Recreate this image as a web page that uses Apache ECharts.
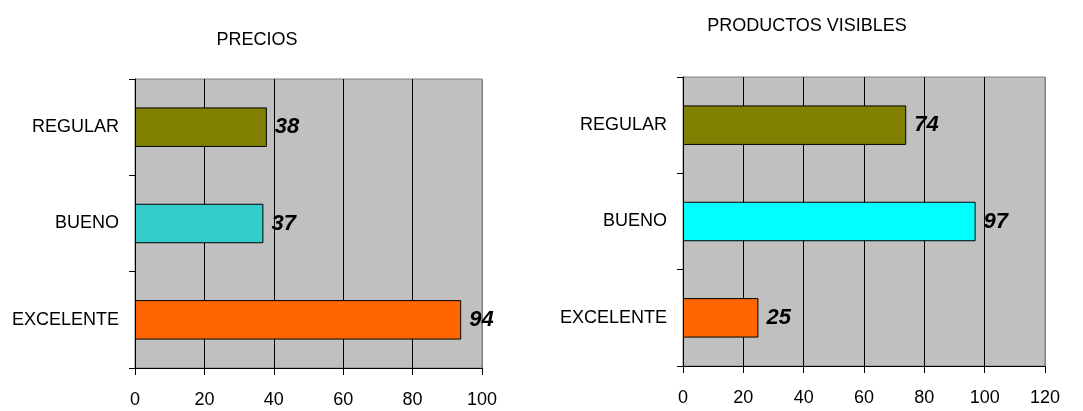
<!DOCTYPE html>
<html>
<head>
<meta charset="utf-8">
<script src="https://cdn.jsdelivr.net/npm/echarts@6/dist/echarts.min.js"></script>
<style>
  html, body { margin: 0; padding: 0; background: #fff; }
  #chart { width: 1083px; height: 411px; }
</style>
</head>
<body>
<div id="chart"></div>
<script>
// Survey ratings, two panels
const categories = ['REGULAR', 'BUENO', 'EXCELENTE'];
const preciosValues = [38, 37, 94];
const productosValues = [74, 97, 25];
const preciosTicks = [0, 20, 40, 60, 80, 100];
const productosTicks = [0, 20, 40, 60, 80, 100, 120];
const barColorsPrecios = ['#808000', '#33CCCC', '#FF6600'];
const barColorsProductos = ['#808000', '#00FFFF', '#FF6600'];

const FONT = '"Liberation Sans", Arial, sans-serif';

function splitColors(ticks) {
  // inner gridlines black, the line at the far edge matches the plot border
  return ticks.map((t, i) => (i === ticks.length - 1 ? '#808080' : '#000000'));
}

function valueAxis(gridIndex, ticks) {
  return {
    type: 'value',
    gridIndex: gridIndex,
    min: ticks[0],
    max: ticks[ticks.length - 1],
    interval: ticks[1] - ticks[0],
    axisLine: { show: true, lineStyle: { color: '#000', width: 1 } },
    axisTick: { show: true, inside: false, length: 7, lineStyle: { color: '#000' } },
    axisLabel: { color: '#000', fontFamily: FONT, fontSize: 18, margin: 23 },
    splitLine: { show: true, lineStyle: { color: splitColors(ticks), width: 1 } }
  };
}

function categoryAxis(gridIndex) {
  return {
    type: 'category',
    gridIndex: gridIndex,
    data: categories,
    inverse: true,
    axisLine: { show: true, lineStyle: { color: '#000', width: 1 } },
    axisTick: { show: true, inside: false, length: 6, lineStyle: { color: '#000' } },
    axisLabel: { color: '#000', fontFamily: FONT, fontSize: 18, margin: 16 },
    splitLine: { show: false }
  };
}

function barSeries(idx, values, colors) {
  return {
    type: 'bar',
    xAxisIndex: idx,
    yAxisIndex: idx,
    barWidth: '41%',
    data: values.map((v, i) => ({
      value: v,
      itemStyle: { color: colors[i], borderColor: '#000', borderWidth: 1 }
    })),
    label: {
      show: true,
      position: 'right',
      distance: 8,
      color: '#000',
      fontFamily: FONT,
      fontSize: 22,
      fontWeight: 'bold',
      fontStyle: 'italic'
    },
    silent: true,
    animation: false
  };
}

const chart = echarts.init(document.getElementById('chart'), null, { renderer: 'canvas' });
chart.setOption({
  backgroundColor: '#ffffff',
  animation: false,
  title: [
    {
      text: 'PRECIOS', left: 252, top: 26, textAlign: 'center',
      textStyle: { color: '#000', fontFamily: FONT, fontSize: 18, fontWeight: 'normal' }
    },
    {
      text: 'PRODUCTOS VISIBLES', left: 802, top: 12, textAlign: 'center',
      textStyle: { color: '#000', fontFamily: FONT, fontSize: 18, fontWeight: 'normal' }
    }
  ],
  grid: [
    { left: 135, top: 79, width: 347, height: 289, show: true, containLabel: false,
      outerBoundsMode: 'none',
      backgroundColor: '#C0C0C0', borderColor: '#808080', borderWidth: 1 },
    { left: 683, top: 77, width: 362, height: 289, show: true, containLabel: false,
      outerBoundsMode: 'none',
      backgroundColor: '#C0C0C0', borderColor: '#808080', borderWidth: 1 }
  ],
  xAxis: [valueAxis(0, preciosTicks), valueAxis(1, productosTicks)],
  yAxis: [categoryAxis(0), categoryAxis(1)],
  series: [
    barSeries(0, preciosValues, barColorsPrecios),
    barSeries(1, productosValues, barColorsProductos)
  ]
});
</script>
</body>
</html>
